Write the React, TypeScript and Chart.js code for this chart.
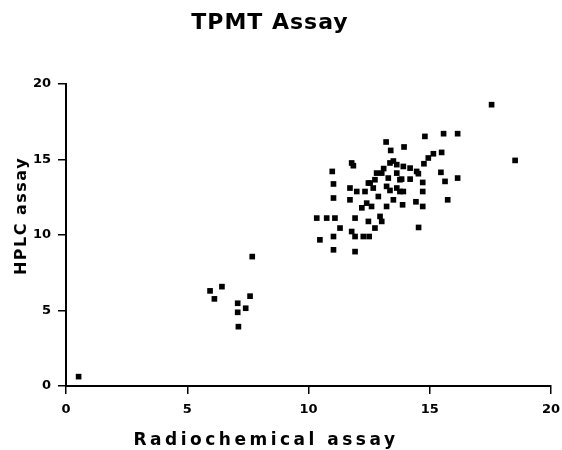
import React, { useEffect, useRef } from "react";
import { Chart, registerables } from "chart.js";

Chart.register(...registerables);

const TITLE = "TPMT Assay";
const X_LABEL = "Radiochemical assay";
const Y_LABEL = "HPLC assay";
const X_TICKS = [0, 5, 10, 15, 20];
const Y_TICKS = [0, 5, 10, 15, 20];

// Radiochemical assay values
const radiochemical = [
  0.52, 5.94, 6.12, 6.43, 7.68, 7.59, 7.08, 7.08, 7.41, 7.11,
  10.34, 10.47, 10.75, 10.98, 11.03, 11.03, 11.03, 11.03, 11.09, 11.3,
  11.71, 11.71, 11.78, 11.85, 11.78, 11.92, 11.92, 11.92, 11.99, 12.26,
  12.5, 12.33, 12.4, 12.6, 12.47, 12.54, 12.74, 12.74, 12.81, 12.88,
  12.95, 13.02, 13.02, 13.2, 13.39, 13.36, 13.29, 13.22, 13.22, 13.5,
  13.64, 13.64, 13.77, 13.77, 13.91, 13.94, 13.84, 13.91, 13.88, 14.19,
  14.19, 14.46, 14.53, 14.43, 14.71, 14.71, 14.71, 14.54, 14.76, 14.8,
  14.94, 15.15, 15.49, 15.57, 16.15, 15.46, 15.63, 16.15, 15.74, 17.55,
  18.52, 12.47, 12.67, 13.36, 13.64, 13.5, 12.2, 13.1,
];

// HPLC assay values
const hplc = [
  0.62, 6.3, 5.77, 6.58, 8.57, 5.95, 5.48, 4.88, 5.15, 3.93,
  11.12, 9.68, 11.12, 14.21, 13.38, 12.45, 9.9, 9.02, 11.12, 10.46,
  13.11, 12.33, 14.77, 14.59, 10.23, 11.12, 9.9, 8.9, 12.88, 9.9,
  9.9, 12.88, 12.11, 11.89, 10.9, 13.44, 13.66, 10.46, 14.1, 12.55,
  11.23, 14.1, 10.9, 16.16, 15.6, 14.77, 13.77, 13.22, 11.89, 12.33,
  14.66, 14.1, 13.66, 12.88, 14.54, 15.83, 13.7, 12.88, 12.0, 14.43,
  13.7, 14.21, 14.06, 12.2, 13.48, 12.88, 11.89, 10.5, 14.72, 16.53,
  15.1, 15.38, 15.47, 16.71, 16.71, 14.15, 13.55, 13.77, 12.33, 18.63,
  14.94, 13.44, 13.11, 12.95, 13.11, 14.9, 11.8, 14.4,
];

const FONT = "'DejaVu Sans', 'Liberation Sans', Arial, sans-serif";

// Draws the title and axis titles with wide letter spacing, like the scanned original.
const labelsPlugin = {
  id: "wideLabels",
  afterDraw(chart: any) {
    const ctx = chart.ctx as CanvasRenderingContext2D & { letterSpacing?: string };
    ctx.save();
    ctx.fillStyle = "#000";
    ctx.textAlign = "center";
    ctx.textBaseline = "middle";

    ctx.font = `bold 22px ${FONT}`;
    ctx.letterSpacing = "1px";
    ctx.fillText(TITLE, 270, 23);

    ctx.font = `bold 17px ${FONT}`;
    ctx.letterSpacing = "3.5px";
    ctx.fillText(X_LABEL, 266, 441);

    ctx.font = `bold 16px ${FONT}`;
    ctx.letterSpacing = "1.5px";
    ctx.translate(22, 216);
    ctx.rotate(-Math.PI / 2);
    ctx.fillText(Y_LABEL, 0, 0);
    ctx.restore();
  },
};

export default function App() {
  const ref = useRef<HTMLCanvasElement | null>(null);

  useEffect(() => {
    document.body.style.margin = "0";
    const canvas = ref.current;
    if (!canvas) return;
    const points = radiochemical.map((x, i) => ({ x, y: hplc[i] }));
    const chart = new Chart(canvas, {
      type: "scatter",
      data: {
        datasets: [
          {
            data: points,
            pointStyle: "rect",
            radius: 4,
            backgroundColor: "#000",
            borderColor: "#000",
            borderWidth: 0,
          },
        ],
      },
      plugins: [labelsPlugin],
      options: {
        animation: false,
        responsive: false,
        maintainAspectRatio: false,
        layout: { padding: { top: 84, right: 0, bottom: 0, left: 0 } },
        plugins: {
          legend: { display: false },
          tooltip: { enabled: false },
          title: { display: false },
        },
        scales: {
          x: {
            type: "linear",
            min: 0,
            max: 20,
            afterBuildTicks: (s: any) => {
              s.ticks = X_TICKS.map((v) => ({ value: v }));
            },
            afterFit: (s: any) => {
              s.height = 64;
              s.paddingRight = 11;
              s.paddingLeft = 0;
            },
            grid: {
              display: true,
              drawOnChartArea: false,
              drawTicks: true,
              tickLength: 8,
              color: "#000",
              lineWidth: 1.5,
            },
            border: { display: true, color: "#000", width: 2 },
            ticks: {
              color: "#000",
              padding: 8,
              font: { family: FONT, size: 13, weight: "bold" },
            },
            title: { display: false },
          },
          y: {
            type: "linear",
            min: 0,
            max: 20,
            afterBuildTicks: (s: any) => {
              s.ticks = Y_TICKS.map((v) => ({ value: v }));
            },
            afterFit: (s: any) => {
              s.width = 66;
            },
            grid: {
              display: true,
              drawOnChartArea: false,
              drawTicks: true,
              tickLength: 8,
              color: "#000",
              lineWidth: 1.5,
            },
            border: { display: true, color: "#000", width: 2 },
            ticks: {
              color: "#000",
              padding: 7,
              font: { family: FONT, size: 13, weight: "bold" },
            },
            title: { display: false },
          },
        },
      },
    });
    return () => chart.destroy();
  }, []);

  return (
    <div style={{ width: 562, height: 450, background: "#fff" }}>
      <canvas ref={ref} width={562} height={450} style={{ display: "block" }} />
    </div>
  );
}
